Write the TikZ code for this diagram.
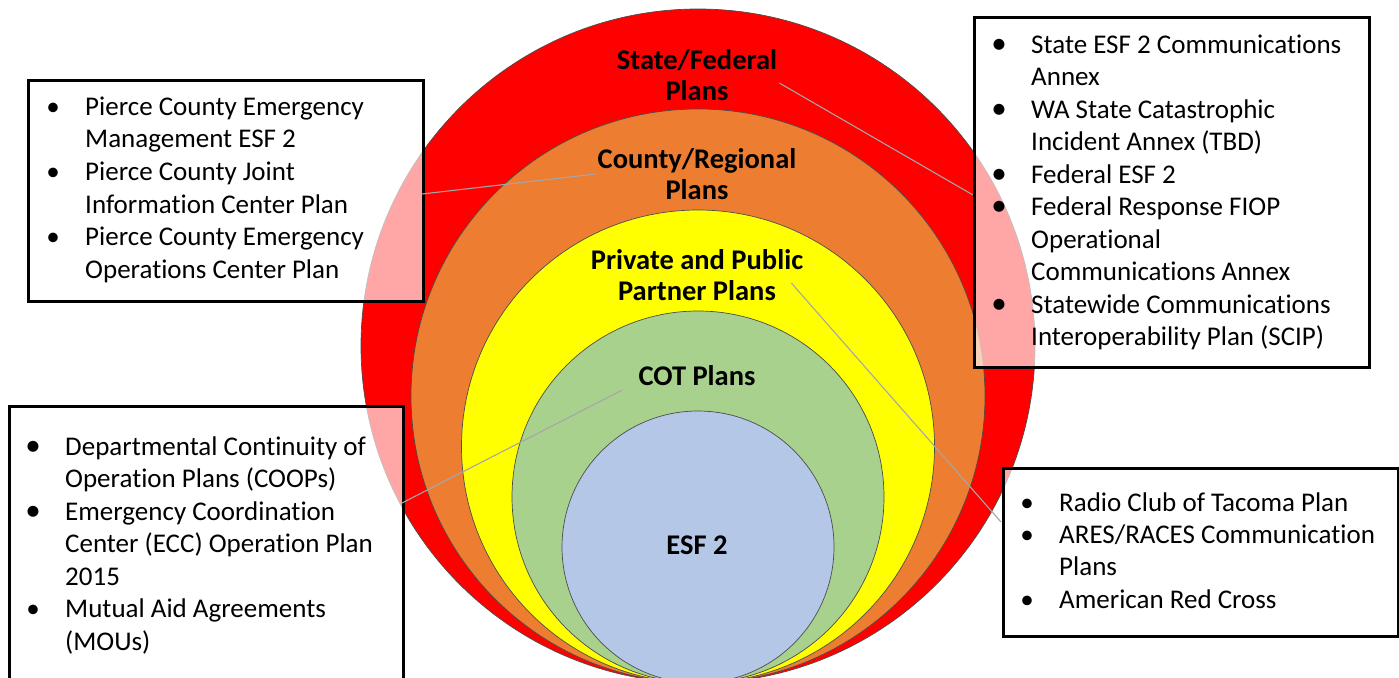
\documentclass[tikz,border=0pt]{standalone}
\usepackage{fontspec}
\setmainfont{Carlito}[Ligatures={NoCommon,NoContextual},Contextuals=NoAlternate]
\usetikzlibrary{positioning}

\definecolor{sfred}{RGB}{255,0,0}
\definecolor{crorange}{RGB}{237,125,49}
\definecolor{ppyellow}{RGB}{255,255,0}
\definecolor{cotgreen}{RGB}{169,209,142}
\definecolor{esfblue}{RGB}{180,199,231}

\tikzset{
  ring/.style={draw=black!70, line width=0.7pt},
  ringlabel/.style={font=\fontsize{28.5}{31}\selectfont\bfseries, align=center, inner sep=2pt},
  planbox/.style={draw=black, line width=2.6pt, fill=white, fill opacity=0.65, inner sep=0pt, anchor=north west},
  itemtext/.style={font=\fontsize{27}{33}\selectfont, anchor=base west, inner sep=0pt},
  itembullet/.style={font=\fontsize{27}{33}\selectfont, anchor=base, inner sep=0pt},
  bigbullet/.style={font=\fontsize{31}{33}\selectfont, anchor=base, inner sep=0pt},
  leader/.style={draw=black!35, line width=1.1pt}
}

\begin{document}
\begin{tikzpicture}[x=1pt,y=-1pt]
    \useasboundingbox (0,0) rectangle (1399,677);

    % nested plans, all touching at the bottom
    \path[ring, fill=sfred]    (698,346)   circle (337);
    \path[ring, fill=crorange] (698,396)   circle (287);
    \path[ring, fill=ppyellow] (698,446.5) circle (236.5);
    \path[ring, fill=cotgreen] (698,497)   circle (186);
    \path[ring, fill=esfblue]  (698,547)   circle (136);

    \node[ringlabel] (sf)  at (697,75)  {State/Federal\\Plans};
    \node[ringlabel] (cr)  at (697,174) {County/Regional\\Plans};
    \node[ringlabel] (pp)  at (697,275) {Private and Public\\Partner Plans};
    \node[ringlabel] (cot) at (697,376) {COT Plans};
    \node[ringlabel] (esf) at (697,545) {ESF 2};

    % boxes
    \node[planbox, minimum width=395pt, minimum height=221pt] (pcbox)  at (27,79)   {};
    \node[planbox, minimum width=395pt, minimum height=350pt] (stbox)  at (973,16)  {};
    \node[planbox, minimum width=394pt, minimum height=295pt] (cotbox) at (8,405)   {};
    \node[planbox, minimum width=395pt, minimum height=168pt] (ppbox)  at (1002,467) {};

    % leaders
    \coordinate (stin)  at (973,195);
    \coordinate (pcin)  at (422,194);
    \coordinate (ppin)  at (1001,522);
    \coordinate (cotin) at (402,503);
    \draw[leader] ([shift={(0,8)}]sf.east) -- (stin);
    \draw[leader] (cr.west) -- (pcin);
    \draw[leader] ([shift={(-14,8)}]pp.east) -- (ppin);
    \draw[leader] ([shift={(-14,14)}]cot.west) -- (cotin);

    % box texts
    \foreach \txt [count=\i] in {Pierce County Emergency, Management ESF 2, Pierce County Joint,
        Information Center Plan, Pierce County Emergency, Operations Center Plan}
        \node[itemtext] (pc\i) at (85,{115+32.7*(\i-1)}) {\txt};
    \foreach \i in {1,3,5}
        \node[itembullet] (pcb\i) at (53,{115+32.7*(\i-1)}) {\textbullet};

    \foreach \txt [count=\i] in {State ESF 2 Communications, Annex, WA State Catastrophic,
        Incident Annex (TBD), Federal ESF 2, Federal Response FIOP, Operational,
        Communications Annex, Statewide Communications, Interoperability Plan (SCIP)}
        \node[itemtext] (st\i) at (1031,{53+32.5*(\i-1)}) {\txt};
    \foreach \i in {1,3,5,6,9}
        \node[bigbullet] (stb\i) at (999,{53+32.5*(\i-1)}) {\textbullet};

    \foreach \txt [count=\i] in {Departmental Continuity of, Operation Plans (COOPs),
        Emergency Coordination, Center (ECC) Operation Plan, 2015,
        Mutual Aid Agreements, {(MOUs)}}
        \node[itemtext] (cot\i) at (65,{455+32.5*(\i-1)}) {\txt};
    \foreach \i in {1,3}
        \node[bigbullet] (cotb\i) at (33,{455+32.5*(\i-1)}) {\textbullet};
    \node[itembullet] (cotb6) at (33,{455+32.5*5}) {\textbullet};

    \foreach \txt [count=\i] in {Radio Club of Tacoma Plan, ARES/RACES Communication,
        Plans, American Red Cross}
        \node[itemtext] (pp\i) at (1059,{511+32.4*(\i-1)}) {\txt};
    \foreach \i in {1,2,4}
        \node[itembullet] (ppb\i) at (1027,{511+32.4*(\i-1)}) {\textbullet};
\end{tikzpicture}
\end{document}
